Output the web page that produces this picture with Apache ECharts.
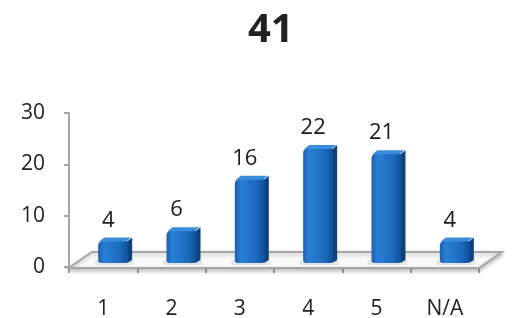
<!DOCTYPE html>
<html><head><meta charset="utf-8">
<script src="https://cdn.jsdelivr.net/npm/echarts@6/dist/echarts.min.js"></script>
<style>html,body{margin:0;padding:0;background:#fff}#c{width:512px;height:318px}</style>
</head><body><div id="c"></div>
<script>
var title = '41';
var categories = ['1', '2', '3', '4', '5', 'N/A'];
var values = [4, 6, 16, 22, 21, 4];
var yTicks = [0, 10, 20, 30];

var FONT = '"Open Sans", "Noto Sans", sans-serif';
var chart = echarts.init(document.getElementById('c'));

function floorItem(params, api) {
  var cs = params.coordSys;
  var x0 = cs.x, x1 = cs.x + cs.width, y = cs.y + cs.height + 1;
  var dx = 23, dy = -16;
  return {
    type: 'group',
    children: [
      { type: 'polygon', shape: { points: [[x0, y], [x1, y], [x1 + dx, y + dy], [x0 + dx, y + dy]] },
        style: { fill: '#fbfbfb', stroke: '#a6a6a6', lineWidth: 2, shadowBlur: 4, shadowColor: 'rgba(0,0,0,0.25)', shadowOffsetY: 2 } },
      { type: 'line', shape: { x1: x0, y1: cs.y, x2: x0, y2: y }, style: { stroke: '#a6a6a6', lineWidth: 2 } }
    ]
  };
}

function barItem(params, api) {
  var i = api.value(0), v = api.value(1);
  var c0 = api.coord([i, 0]), c1 = api.coord([i, v]);
  var cx = c0[0] + 10;
  var w = 30, side = 4;
  var yb = c0[1] - 4, yt = c1[1] - 6;
  var xl = cx - w / 2, xr = cx + w / 2;
  return {
    type: 'group',
    children: [
      { type: 'rect', shape: { x: xl - 4, y: yb - 3, width: w + 10, height: 5, r: 3 },
        style: { fill: 'rgba(0,0,0,0.08)', shadowBlur: 6, shadowColor: 'rgba(0,0,0,0.25)' } },
      { type: 'polygon', shape: { points: [[xr - 1, yt + 1], [xr + side, yt - 3], [xr + side, yb - 3], [xr - 1, yb]] },
        style: { fill: '#0d427f' } },
      { type: 'rect', shape: { x: xl, y: yt, width: w, height: yb - yt, r: [5, 3, 3, 3] },
        style: { fill: new echarts.graphic.LinearGradient(0, 0, 1, 0, [
          { offset: 0, color: '#1a5fae' }, { offset: 0.2, color: '#2a7fd4' },
          { offset: 0.7, color: '#1d6bc0' }, { offset: 1, color: '#104e96' }]) } },
      { type: 'polygon', shape: { points: [[xl + 1, yt + 1], [xl + 6, yt - 3], [xr + side - 1, yt - 3], [xr - 2, yt + 1]] },
        style: { fill: '#3a8ddb' } },
      { type: 'text', style: { text: String(v), x: cx - 5, y: yt - 20, align: 'center', verticalAlign: 'middle',
        font: '22px ' + FONT, fill: '#1a1a1a' } }
    ]
  };
}

chart.setOption({
  animation: false,
  title: { text: title, left: 243, top: 6, textStyle: { fontFamily: FONT, fontSize: 40, fontWeight: 'bold', color: '#222' } },
  grid: { left: 69, right: 33, top: 113, bottom: 51, outerBoundsMode: 'none', containLabel: false },
  xAxis: {
    type: 'category', data: categories,
    axisLine: { show: true, lineStyle: { color: '#a6a6a6', width: 2 } },
    axisTick: { show: true, length: 6, lineStyle: { color: '#a6a6a6', width: 2 } },
    axisLabel: { fontFamily: FONT, fontSize: 21, color: '#222', margin: 32 }
  },
  yAxis: {
    type: 'value', min: yTicks[0], max: yTicks[yTicks.length - 1], interval: 10,
    splitLine: { show: false },
    axisLine: { show: true, lineStyle: { color: '#a6a6a6', width: 2 } },
    axisTick: { show: true, length: 5, lineStyle: { color: '#a6a6a6', width: 2 } },
    axisLabel: { fontFamily: FONT, fontSize: 21, color: '#222', margin: 24 }
  },
  series: [
    { type: 'custom', renderItem: floorItem, data: [[0, 0]], silent: true, z: 1 },
    { type: 'custom', renderItem: barItem, data: values.map(function (v, i) { return [i, v]; }), z: 3 }
  ]
});
</script></body></html>
